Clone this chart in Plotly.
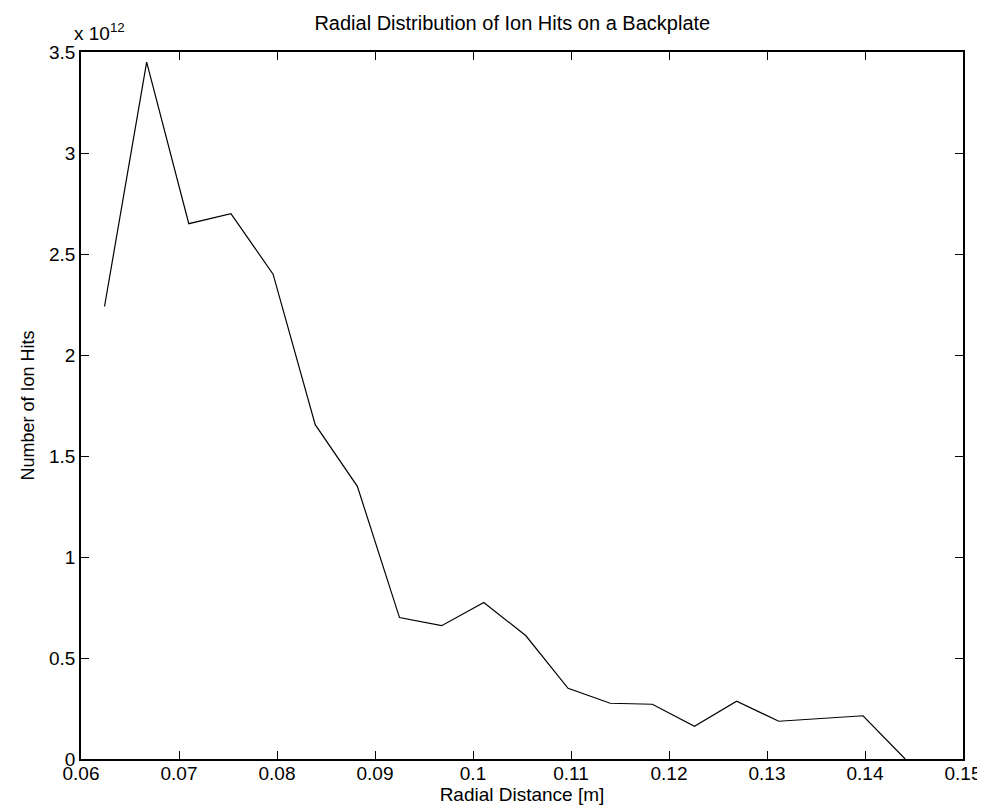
import plotly.graph_objects as go

radial_distance = [0.0624 + 0.0043 * i for i in range(20)]
ion_hits_e12 = [2.24, 3.45, 2.65, 2.70, 2.40, 1.655, 1.35, 0.70, 0.66, 0.775,
                0.61, 0.35, 0.276, 0.271, 0.162, 0.286, 0.187, 0.20, 0.214, 0.0]
ion_hits = [v * 1e12 for v in ion_hits_e12]

x_ticks = [0.06, 0.07, 0.08, 0.09, 0.10, 0.11, 0.12, 0.13, 0.14, 0.15]
x_ticktext = ["0.06", "0.07", "0.08", "0.09", "0.1", "0.11", "0.12", "0.13", "0.14", "0.15"]
y_ticks_e12 = [0, 0.5, 1, 1.5, 2, 2.5, 3, 3.5]
y_ticktext = ["0", "0.5", "1", "1.5", "2", "2.5", "3", "3.5"]

font_family = "Liberation Sans, Arial, sans-serif"

fig = go.Figure()
fig.add_trace(go.Scatter(
    x=radial_distance, y=ion_hits, mode="lines",
    line=dict(color="black", width=1.2),
    showlegend=False,
))

fig.update_layout(
    width=985, height=812,
    margin=dict(l=73, r=24, t=44, b=61),
    paper_bgcolor="white", plot_bgcolor="white",
    font=dict(family=font_family, color="black", size=18),
    title=dict(text="Radial Distribution of Ion Hits on a Backplate",
               xref="container", x=0.512, xanchor="center",
               yref="container", y=0.982, yanchor="middle",
               font=dict(size=20, family=font_family)),
    annotations=[dict(
        text="x 10<sup>12</sup>", xref="paper", yref="paper",
        x=0.0, y=1.0, xanchor="left", yanchor="bottom", yshift=6, xshift=-9,
        showarrow=False, font=dict(size=19, family=font_family),
    )],
)

fig.update_xaxes(
    range=[0.06, 0.15], tickvals=x_ticks, ticktext=x_ticktext,
    ticks="inside", ticklen=8, tickwidth=1, tickcolor="black",
    showline=True, linecolor="black", linewidth=1.5, mirror="ticks",
    showgrid=False, zeroline=False, ticklabelstandoff=-4,
    title=dict(text="Radial Distance [m]", font=dict(size=19), standoff=2),
    tickfont=dict(size=19),
)
fig.update_yaxes(
    range=[0, 3.5e12], tickvals=[v * 1e12 for v in y_ticks_e12], ticktext=y_ticktext,
    ticks="inside", ticklen=8, tickwidth=1, tickcolor="black",
    showline=True, linecolor="black", linewidth=1.5, mirror="ticks",
    showgrid=False, zeroline=False,
    title=dict(text="Number of Ion Hits", font=dict(size=18), standoff=10),
    tickfont=dict(size=19),
)

fig.write_html("out.html")
